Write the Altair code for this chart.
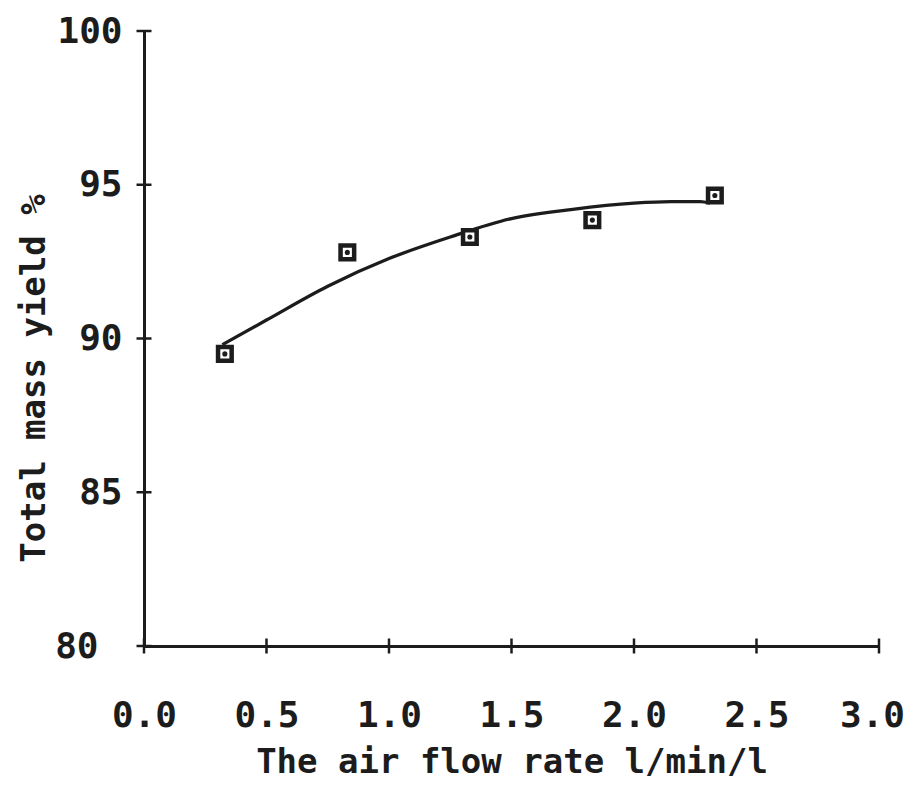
import altair as alt
import pandas as pd

# measured points
flow = [0.33, 0.83, 1.33, 1.83, 2.33]
yield_pct = [89.5, 92.8, 93.3, 93.85, 94.65]

# fitted curve
curve_x = [0.32, 0.5, 0.75, 1.0, 1.25, 1.5, 1.75, 2.0, 2.15, 2.27, 2.31]
curve_y = [89.8, 90.6, 91.7, 92.6, 93.3, 93.9, 94.2, 94.4, 94.45, 94.45, 94.4]

x_ticks = [0.0, 0.5, 1.0, 1.5, 2.0, 2.5, 3.0]
y_ticks = [80, 85, 90, 95, 100]

pts = pd.DataFrame({"x": flow, "y": yield_pct})
crv = pd.DataFrame({"x": curve_x, "y": curve_y})
xt = pd.DataFrame({"x": x_ticks})
yt = pd.DataFrame({"y": y_ticks})

FONT = "DejaVu Sans Mono"
INK = "#1c1c1c"

xscale = alt.Scale(domain=[0, 3], nice=False, zero=False)
yscale = alt.Scale(domain=[80, 100], nice=False, zero=False)

x_axis = alt.Axis(orient="bottom", domain=True, domainColor=INK, domainWidth=3,
                  grid=False, values=x_ticks, format=".1f", ticks=False,
                  labelPadding=52, labelFont=FONT, labelFontSize=36,
                  labelFontWeight="bold", labelColor=INK, labelFlush=False,
                  labelOverlap=False,
                  labelOffset={"condition": {"test": "datum.value == 3",
                                             "value": -7}, "value": 0},
                  title="The air flow rate l/min/l", titleFont=FONT,
                  titleFontSize=34, titleFontWeight="bold", titleColor=INK,
                  titlePadding=12)
y_axis = alt.Axis(orient="left", domain=True, domainColor=INK, domainWidth=3,
                  grid=False, values=y_ticks, format="d", ticks=False,
                  labelPadding={"condition": {"test": "datum.value == 80",
                                              "value": 46}, "value": 22},
                  labelFont=FONT, labelFontSize=36,
                  labelFontWeight="bold", labelColor=INK, labelFlush=False,
                  labelOverlap=False,
                  title="Total mass yield %", titleFont=FONT,
                  titleFontSize=34, titleFontWeight="bold", titleColor=INK,
                  titleY=347, titleX=-93, titleBaseline="bottom")

# crossing tick marks on both axes
xticks = alt.Chart(xt).mark_tick(orient="vertical", size=15, thickness=2.5,
                                 color=INK, opacity=1).encode(
    x=alt.X("x:Q", scale=xscale, axis=x_axis),
    y=alt.datum(80),
)
yticks = alt.Chart(yt).mark_tick(orient="horizontal", size=15, thickness=2.5,
                                 color=INK, opacity=1).encode(
    y=alt.Y("y:Q", scale=yscale, axis=y_axis),
    x=alt.datum(0),
)

line = alt.Chart(crv).mark_line(interpolate="monotone", strokeWidth=3.3,
                                color=INK).encode(
    x=alt.X("x:Q", scale=xscale, axis=x_axis),
    y=alt.Y("y:Q", scale=yscale, axis=y_axis),
)
boxes = alt.Chart(pts).mark_point(shape="square", filled=False, size=185,
                                  strokeWidth=4.5, color=INK, opacity=1,
                                  fill="white", fillOpacity=1).encode(
    x=alt.X("x:Q", scale=xscale, axis=x_axis),
    y=alt.Y("y:Q", scale=yscale, axis=y_axis),
)
dots = alt.Chart(pts).mark_point(shape="circle", filled=True, size=26,
                                 color=INK, opacity=1).encode(
    x=alt.X("x:Q", scale=xscale, axis=x_axis),
    y=alt.Y("y:Q", scale=yscale, axis=y_axis),
)

chart = alt.layer(xticks, yticks, line, boxes, dots).properties(
    width=735, height=615,
    autosize=alt.AutoSizeParams(type="none"),
    padding={"left": 136, "top": 23, "right": 27, "bottom": 136},
    background="white",
).configure_view(stroke=None)

chart.save("out.html", embed_options={"renderer": "svg", "actions": False})
